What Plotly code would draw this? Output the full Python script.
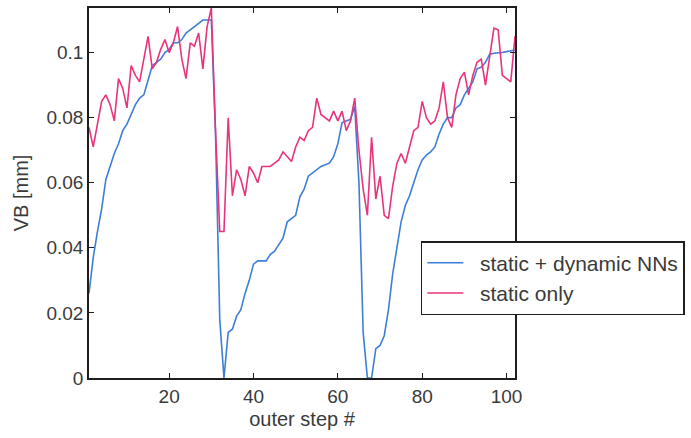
import plotly.graph_objects as go

# Tool-wear estimate VB over the outer optimisation steps
steps = list(range(1, 103))

vb_static_dynamic = [
    0.026, 0.037, 0.045, 0.052, 0.061, 0.065, 0.069, 0.072, 0.076, 0.078,
    0.081, 0.084, 0.086, 0.087, 0.0915, 0.096, 0.097, 0.098, 0.100, 0.101,
    0.103, 0.103, 0.104, 0.106, 0.107, 0.108, 0.109, 0.110, 0.110, 0.110,
    0.075, 0.018, 0.000, 0.014, 0.015, 0.019, 0.021, 0.026, 0.030, 0.035,
    0.036, 0.036, 0.036, 0.038, 0.039, 0.041, 0.043, 0.048, 0.049, 0.050,
    0.0557, 0.058, 0.062, 0.063, 0.064, 0.065, 0.0655, 0.066, 0.068, 0.072,
    0.0785, 0.079, 0.0795, 0.0834, 0.060, 0.014, 0.000, 0.000, 0.009, 0.010,
    0.013, 0.021, 0.032, 0.040, 0.048, 0.053, 0.056, 0.060, 0.064, 0.067,
    0.0685, 0.0695, 0.071, 0.075, 0.078, 0.080, 0.080, 0.083, 0.084, 0.087,
    0.089, 0.091, 0.095, 0.0955, 0.097, 0.0995, 0.0998, 0.0998, 0.100, 0.1003,
    0.1006, 0.1008,
]

vb_static_only = [
    0.077, 0.071, 0.078, 0.085, 0.087, 0.084, 0.079, 0.092, 0.089, 0.083,
    0.096, 0.093, 0.091, 0.098, 0.105, 0.095, 0.097, 0.101, 0.104, 0.100,
    0.103, 0.108, 0.098, 0.092, 0.103, 0.102, 0.106, 0.095, 0.108, 0.1137,
    0.076, 0.045, 0.045, 0.080, 0.056, 0.064, 0.061, 0.056, 0.065, 0.063,
    0.060, 0.065, 0.065, 0.065, 0.066, 0.067, 0.0695, 0.068, 0.0665, 0.071,
    0.074, 0.073, 0.076, 0.077, 0.086, 0.081, 0.080, 0.079, 0.082, 0.079,
    0.082, 0.076, 0.079, 0.086, 0.070, 0.058, 0.050, 0.074, 0.055, 0.062,
    0.050, 0.049, 0.059, 0.066, 0.069, 0.066, 0.071, 0.076, 0.077, 0.085,
    0.080, 0.078, 0.079, 0.083, 0.091, 0.080, 0.077, 0.087, 0.092, 0.094,
    0.087, 0.093, 0.097, 0.098, 0.090, 0.099, 0.1075, 0.107, 0.093, 0.092,
    0.091, 0.105,
]

x_ticks = [20, 40, 60, 80, 100]
y_ticks = [0, 0.02, 0.04, 0.06, 0.08, 0.1]
y_tick_text = ["0", "0.02", "0.04", "0.06", "0.08", "0.1"]

series_names = ["static + dynamic NNs", "static only"]
series_colors = ["#3d7fd6", "#e8347c"]

FONT = "Liberation Sans, Arial, sans-serif"
TEXT = "#3a3a3a"
FRAME = "#1e1e1e"

# a little extra room between the legend line sample and its label
LEGEND_PAD = "\u00a0\u00a0"

fig = go.Figure()
for name, vals, color in zip(series_names, [vb_static_dynamic, vb_static_only], series_colors):
    fig.add_trace(go.Scatter(
        x=steps, y=vals, mode="lines", name=LEGEND_PAD + name,
        line=dict(color=color, width=1.6),
    ))

y_top = max(max(vb_static_dynamic), max(vb_static_only))

axis_common = dict(
    showgrid=False, zeroline=False,
    showline=True, linecolor=FRAME, linewidth=1.5, mirror="ticks",
    ticks="inside", ticklen=5, tickwidth=1.3, tickcolor=FRAME,
    tickfont=dict(family=FONT, size=19, color=TEXT),
)

fig.update_layout(
    width=691, height=438,
    margin=dict(l=89, r=176, t=8, b=60, autoexpand=False),
    paper_bgcolor="white", plot_bgcolor="white",
    font=dict(family=FONT, color=TEXT),
    xaxis=dict(
        range=[1, 102], tickvals=x_ticks,
        title=dict(text="outer step #", font=dict(family=FONT, size=20, color=TEXT), standoff=6),
        **axis_common,
    ),
    yaxis=dict(
        range=[0, y_top], tickvals=y_ticks, ticktext=y_tick_text,
        title=dict(text="VB [mm]", font=dict(family=FONT, size=20, color=TEXT), standoff=12),
        **axis_common,
    ),
    legend=dict(
        x=0.779, y=0.37, xanchor="left", yanchor="top",
        bgcolor="white", bordercolor=FRAME, borderwidth=1.5,
        font=dict(family=FONT, size=21, color=TEXT),
        itemwidth=36, tracegroupgap=0,
    ),
    showlegend=True,
)

fig.write_html("out.html")
